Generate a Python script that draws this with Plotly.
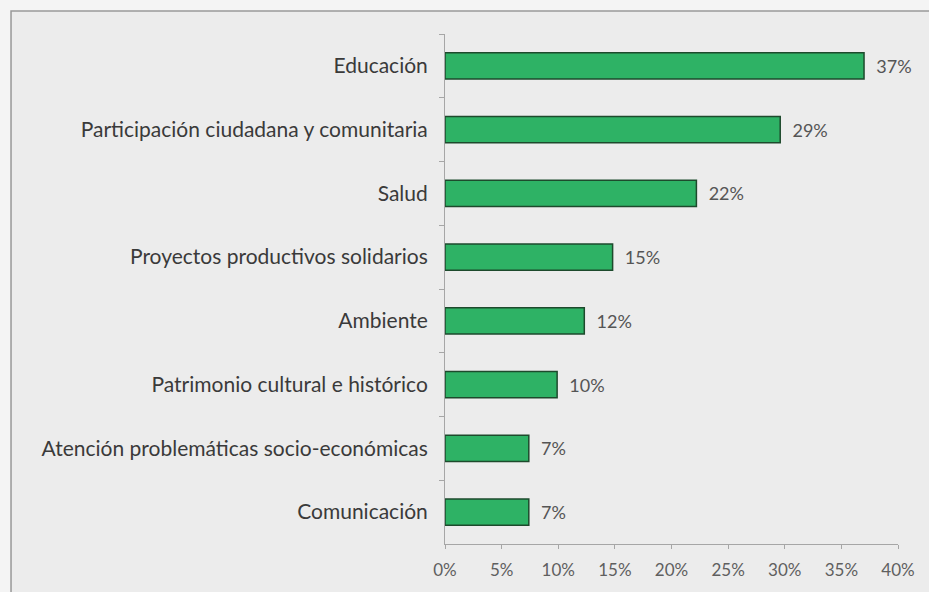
import plotly.graph_objects as go

categories = [
    "Educación",
    "Participación ciudadana y comunitaria",
    "Salud",
    "Proyectos productivos solidarios",
    "Ambiente",
    "Patrimonio cultural e histórico",
    "Atención problemáticas socio-económicas",
    "Comunicación",
]
values = [37.0, 29.6, 22.2, 14.8, 12.3, 9.9, 7.4, 7.4]
value_labels = ["37%", "29%", "22%", "15%", "12%", "10%", "7%", "7%"]
x_tick_values = [0, 5, 10, 15, 20, 25, 30, 35, 40]
x_tick_labels = ["0%", "5%", "10%", "15%", "20%", "25%", "30%", "35%", "40%"]

FONT = "Lato"

fig = go.Figure()
fig.add_trace(go.Bar(
    y=categories,
    x=values,
    orientation="h",
    marker=dict(color="#2eb265", line=dict(color="#1d4a2c", width=1.5)),
    text=value_labels,
    texttemplate="  %{text}",
    textposition="outside",
    textfont=dict(family=FONT, size=18, color="#555555"),
    cliponaxis=False,
    width=0.41,
    hoverinfo="skip",
))

fig.update_layout(
    width=929,
    height=592,
    margin=dict(l=445, r=31, t=34, b=45),
    paper_bgcolor="#f4f4f4",
    plot_bgcolor="rgba(0,0,0,0)",
    showlegend=False,
    font=dict(family=FONT, color="#404040"),
    shapes=[
        dict(type="rect", xref="paper", yref="paper",
             x0=-0.958, x1=1.2, y0=-0.3, y1=1.045,
             line=dict(color="#999999", width=1.5),
             fillcolor="#ececec", layer="below"),
    ],
)

fig.update_xaxes(
    range=[0, 40],
    tickvals=x_tick_values,
    ticktext=x_tick_labels,
    showgrid=False,
    zeroline=False,
    showline=True,
    linecolor="#a6a6a6",
    linewidth=1,
    ticks="outside",
    ticklen=4,
    tickcolor="#a6a6a6",
    tickfont=dict(family=FONT, size=17, color="#5f5f5f"),
    ticklabelstandoff=7,
)

fig.update_yaxes(
    autorange="reversed",
    showgrid=False,
    showline=True,
    linecolor="#a6a6a6",
    linewidth=1,
    ticks="outside",
    ticklen=5,
    tickcolor="#a6a6a6",
    tickson="boundaries",
    tickfont=dict(family=FONT, size=21, color="#3a3a3a"),
    ticklabelstandoff=12,
)

fig.write_html(
    "out.html",
    config={"displayModeBar": False},
    post_script="document.body.style.margin='0';document.body.style.overflow='hidden';",
)
